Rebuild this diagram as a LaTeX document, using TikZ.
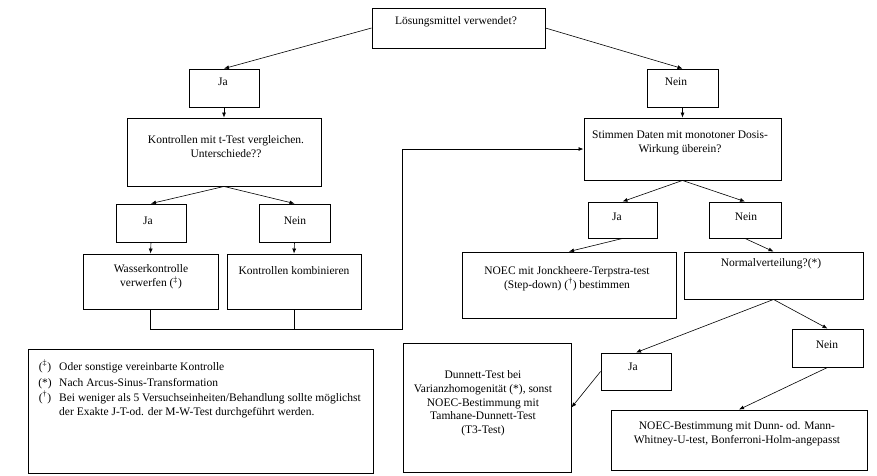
\documentclass[tikz,border=0pt]{standalone}
\usepackage{fontspec}
\setmainfont{Liberation Serif}
\usetikzlibrary{arrows.meta}
\begin{document}
\begin{tikzpicture}[x=1pt,y=-1pt,
 box/.style={draw, line width=0.9pt, inner sep=0pt},
 txt/.style={font=\fontsize{11.5}{13.7}\selectfont, align=center, inner sep=0pt},
 arr/.style={-{Latex[length=5pt,width=4pt]}, line width=0.6pt},
 conn/.style={line width=0.8pt}]
\useasboundingbox (0,0) rectangle (877,475);
% boxes
\node[box, minimum width=173, minimum height=40] (top) at (458.5,28) {};
\node[box, minimum width=70, minimum height=38] (jaA) at (224,88) {};
\node[box, minimum width=71, minimum height=38] (neinA) at (682.5,88) {};
\node[box, minimum width=194, minimum height=68] (kontr) at (224,152) {};
\node[box, minimum width=197, minimum height=62] (stimmen) at (682.5,149) {};
\node[box, minimum width=70, minimum height=38] (jaB) at (151,223) {};
\node[box, minimum width=71, minimum height=38] (neinB) at (294.5,223) {};
\node[box, minimum width=135, minimum height=55] (wasser) at (150.5,281.5) {};
\node[box, minimum width=134, minimum height=55] (kombi) at (294,281.5) {};
\node[box, minimum width=345, minimum height=124] (legend) at (200.5,411) {};
\node[box, minimum width=69, minimum height=36] (jaC) at (622.5,220) {};
\node[box, minimum width=72, minimum height=36] (neinC) at (745,220) {};
\node[box, minimum width=214, minimum height=66] (noecJ) at (569,285) {};
\node[box, minimum width=179, minimum height=47] (normal) at (773.5,275.5) {};
\node[box, minimum width=70, minimum height=37] (jaD) at (636,371.5) {};
\node[box, minimum width=71, minimum height=38] (neinD) at (827.5,348) {};
\node[box, minimum width=168, minimum height=129] (dunnett) at (487,407.5) {};
\node[box, minimum width=256, minimum height=60] (dunn) at (739,440) {};
% texts
\node[txt] (tTop) at (456,22) {Lösungsmittel verwendet?};
\node[txt] (tJaA) at (223,82) {Ja};
\node[txt] (tNeinA) at (676,82) {Nein};
\node[txt] (tKontr) at (226,146.5) {Kontrollen mit t-Test vergleichen.\\Unterschiede??};
\node[txt] (tStimmen) at (680,143) {Stimmen Daten mit monotoner Dosis-\\Wirkung überein?};
\node[txt] (tJaB) at (148,221) {Ja};
\node[txt] (tNeinB) at (295,221) {Nein};
\node[txt] (tWasser) at (151,277) {Wasserkontrolle\\verwerfen (\textsuperscript{‡})};
\node[txt] (tKombi) at (294,271) {Kontrollen kombinieren};
\node[txt] (tJaC) at (617,217) {Ja};
\node[txt] (tNeinC) at (746,217) {Nein};
\node[txt] (tNoecJ) at (567,278.5) {NOEC mit Jonckheere-Terpstra-test\\(Step-down) (\textsuperscript{†}) bestimmen};
\node[txt] (tNormal) at (771,264) {Normalverteilung?(*)};
\node[txt] (tJaD) at (633,367) {Ja};
\node[txt] (tNeinD) at (827,345) {Nein};
\node[txt] (tDunnett) at (483,403.5) {Dunnett-Test bei\\Varianzhomogenität (*), sonst\\NOEC-Bestimmung mit\\Tamhane-Dunnett-Test\\(T3-Test)};
\node[txt] (tDunn) at (737,434) {NOEC-Bestimmung mit Dunn- od. Mann-\\Whitney-U-test, Bonferroni-Holm-angepasst};
% legend
\node[txt, anchor=base] (m1) at (45,370) {(\textsuperscript{‡})};
\node[txt, anchor=base] (m2) at (45,386) {(*)};
\node[txt, anchor=base] (m3) at (45,401) {(\textsuperscript{†})};
\node[txt, anchor=base west] (l1) at (59,370) {Oder sonstige vereinbarte Kontrolle};
\node[txt, anchor=base west] (l2) at (59,386) {Nach Arcus-Sinus-Transformation};
\node[txt, anchor=base west] (l3) at (59,401) {Bei weniger als 5 Versuchseinheiten/Behandlung sollte möglichst};
\node[txt, anchor=base west] (l4) at (59,415.5) {der Exakte J-T-od. der M-W-Test durchgeführt werden.};
% connectors
\draw[arr] (top.west) -- (jaA.north);
\draw[arr] (top.east) -- (neinA.north);
\draw[arr] (jaA.south) -- (kontr.north);
\draw[arr] (neinA.south) -- (stimmen.north);
\draw[arr] (kontr.south) -- (jaB.north);
\draw[arr] (kontr.south) -- (neinB.north);
\draw[arr] (jaB.south) -- (wasser.north);
\draw[arr] (neinB.south) -- (kombi.north);
\coordinate (bend) at (402,329);
\draw[conn, -{Latex[length=5pt,width=4pt]}] (wasser.south) |- (bend) |- (stimmen.west);
\draw[conn] (kombi.south) -- (kombi.south |- bend);
\draw[arr] (stimmen.south) -- (jaC.north);
\draw[arr] (stimmen.south) -- (neinC.north);
\draw[arr] (jaC.south) -- (noecJ.north);
\draw[arr] (neinC.south) -- (normal.north);
\draw[arr] (normal.south) -- (jaD.north);
\draw[arr] (normal.south) -- (neinD.north);
\draw[arr] (jaD.west) -- (dunnett.east);
\draw[arr] (neinD.south) -- (dunn.north);
\end{tikzpicture}
\end{document}
